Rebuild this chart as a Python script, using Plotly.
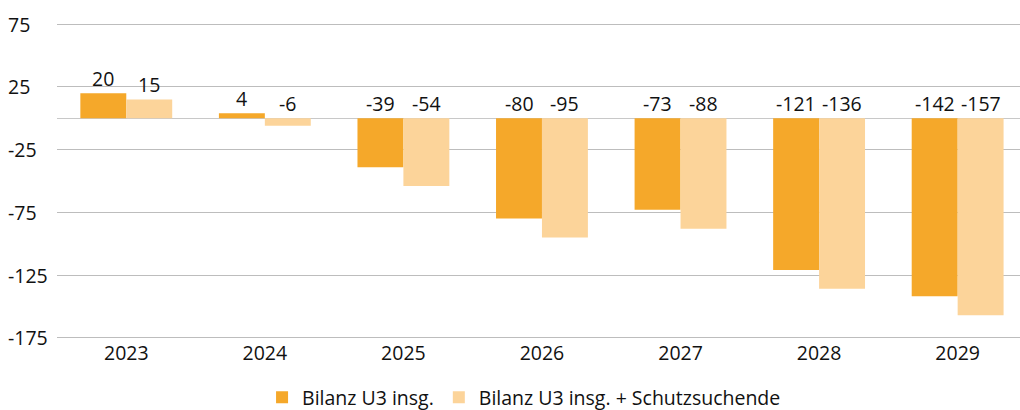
import plotly.graph_objects as go

years = ["2023", "2024", "2025", "2026", "2027", "2028", "2029"]
bilanz = [20, 4, -39, -80, -73, -121, -142]
bilanz_schutz = [15, -6, -54, -95, -88, -136, -157]
y_ticks = [75, 25, -25, -75, -125, -175]
y_tick_labels = ["75", "25", "-25", "-75", "-125", "-175"]

DARK = "#F5A82A"
LIGHT = "#FCD49A"
FONT = "Open Sans"
FS = 19.5

fig = go.Figure()
fig.add_trace(go.Bar(x=years, y=bilanz, name="Bilanz U3 insg.",
                     marker=dict(color=DARK, line=dict(width=0))))
fig.add_trace(go.Bar(x=years, y=bilanz_schutz, name="Bilanz U3 insg. + Schutzsuchende",
                     marker=dict(color=LIGHT, line=dict(width=0))))

annotations = []
for i, (a, b) in enumerate(zip(bilanz, bilanz_schutz)):
    for v, off in ((a, -0.165), (b, 0.165)):
        annotations.append(dict(x=i + off, y=max(v, 0), xref="x", yref="y",
                                text=str(v), showarrow=False, yanchor="bottom",
                                yshift=-1, font=dict(size=FS, color="#111111", family=FONT)))
for t, lab in zip(y_ticks, y_tick_labels):
    annotations.append(dict(x=0, y=t, xref="paper", yref="y", text=lab, showarrow=False,
                            xanchor="left", yanchor="middle", xshift=-51,
                            font=dict(size=FS, color="#111111", family=FONT)))

fig.update_layout(
    width=1020, height=410,
    margin=dict(l=57, r=0, t=23, b=71, autoexpand=False),
    paper_bgcolor="white", plot_bgcolor="white",
    barmode="group", bargap=0.337, bargroupgap=0,
    font=dict(family=FONT, size=FS, color="#111111"),
    xaxis=dict(type="category", range=[-0.5, 6.45], showgrid=False, zeroline=False,
               showline=False, ticks="", tickfont=dict(size=FS), automargin=False),
    yaxis=dict(range=[-176, 76], tickvals=y_ticks, showticklabels=False,
               showgrid=True, gridcolor="#bdbdbd", gridwidth=1,
               zeroline=True, zerolinecolor="#c8c8c8", zerolinewidth=1,
               showline=False, ticks="", automargin=False),
    legend=dict(orientation="h", x=0.485, xanchor="center", y=-0.124, yanchor="top",
                font=dict(size=FS), itemwidth=30, traceorder="normal"),
    annotations=annotations,
)

fig.write_html("out.html", config={"displayModeBar": False},
               post_script="document.body.style.margin='0';")
